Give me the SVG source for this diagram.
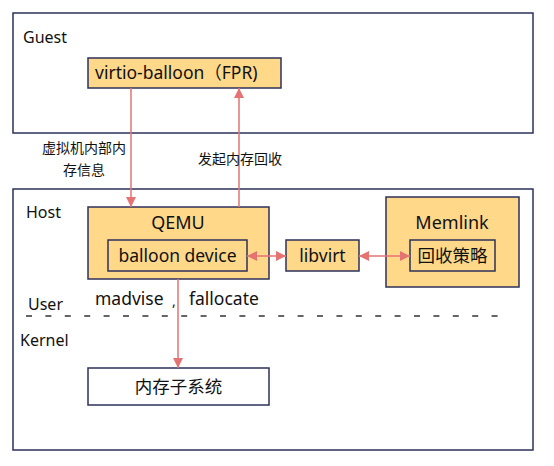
<svg xmlns="http://www.w3.org/2000/svg" width="554" height="466" viewBox="0 0 554 466">
<style>
text{font-family:"Noto Sans","Noto Sans CJK SC",sans-serif;fill:#111;}
.zone{fill:#fff;stroke:#2e3159;stroke-width:1.5;}
.box{fill:#ffd88a;stroke:#2e3159;stroke-width:1.5;}
.plain{fill:#fff;stroke:#2e3159;stroke-width:1.5;}
.conn{stroke:#e57373;stroke-width:1.5;fill:none;}
.t17{font-size:17.5px;}
.t18{font-size:18px;}
.t16{font-size:16px;}
.t14{font-size:14px;}
</style>
<defs>
<marker id="ah" viewBox="0 0 10 10" refX="10" refY="5" markerWidth="10" markerHeight="10" markerUnits="userSpaceOnUse" orient="auto-start-reverse">
<path d="M0,0 L10,5 L0,10 z" fill="#e57373"/>
</marker>
</defs>
<rect width="554" height="466" fill="#fff"/>
<g id="guest">
<rect class="zone" x="13" y="13" width="520" height="120"/>
<text class="t16" x="23" y="43">Guest</text>
</g>
<g id="host">
<rect class="zone" x="13" y="189" width="520" height="261"/>
<text class="t16" x="26" y="218">Host</text>
<text class="t16" x="28" y="310">User</text>
<text class="t16" x="20" y="346">Kernel</text>
<line x1="26" y1="316" x2="505" y2="316" stroke="#333" stroke-width="1.5" stroke-dasharray="6 13.4"/>
</g>
<g id="virtio-balloon">
<rect class="box" x="88" y="58" width="193" height="30"/>
<text class="t17" x="95" y="79">virtio-balloon（FPR)</text>
</g>
<g id="qemu">
<rect class="box" x="88" y="207" width="181" height="72"/>
<text class="t18" x="178" y="229" text-anchor="middle">QEMU</text>
</g>
<g id="balloon-device">
<rect class="box" x="108" y="240" width="139" height="31"/>
<text class="t17" x="177.5" y="262" text-anchor="middle">balloon device</text>
</g>
<g id="libvirt">
<rect class="box" x="286" y="240" width="73" height="31"/>
<text class="t17" x="322.5" y="262" text-anchor="middle">libvirt</text>
</g>
<g id="memlink">
<rect class="box" x="386" y="197" width="133" height="90"/>
<text class="t18" x="452" y="229" text-anchor="middle">Memlink</text>
</g>
<g id="policy">
<rect class="box" x="410" y="240" width="85" height="31"/>
<text class="t17" x="452.5" y="262" text-anchor="middle">回收策略</text>
</g>
<g id="memory-subsystem">
<rect class="plain" x="88" y="368" width="181" height="37"/>
<text class="t17" x="178.5" y="393" text-anchor="middle">内存子系统</text>
</g>
<g id="connectors">
<line class="conn" x1="131" y1="88" x2="131" y2="207" marker-end="url(#ah)"/>
<line class="conn" x1="239" y1="207" x2="239" y2="88" marker-end="url(#ah)"/>
<line class="conn" x1="247" y1="256" x2="286" y2="256" marker-start="url(#ah)" marker-end="url(#ah)"/>
<line class="conn" x1="359" y1="256" x2="410" y2="256" marker-start="url(#ah)" marker-end="url(#ah)"/>
<line class="conn" x1="178" y1="279" x2="178" y2="368" marker-end="url(#ah)"/>
<text class="t14" x="84" y="153" text-anchor="middle">虚拟机内部内</text>
<text class="t14" x="84" y="175" text-anchor="middle">存信息</text>
<text class="t14" x="240" y="164" text-anchor="middle">发起内存回收</text>
<text class="t17" x="95" y="305">madvise</text>
<text class="t14" x="172" y="306">,</text>
<text class="t17" x="189" y="305">fallocate</text>
</g>
</svg>
